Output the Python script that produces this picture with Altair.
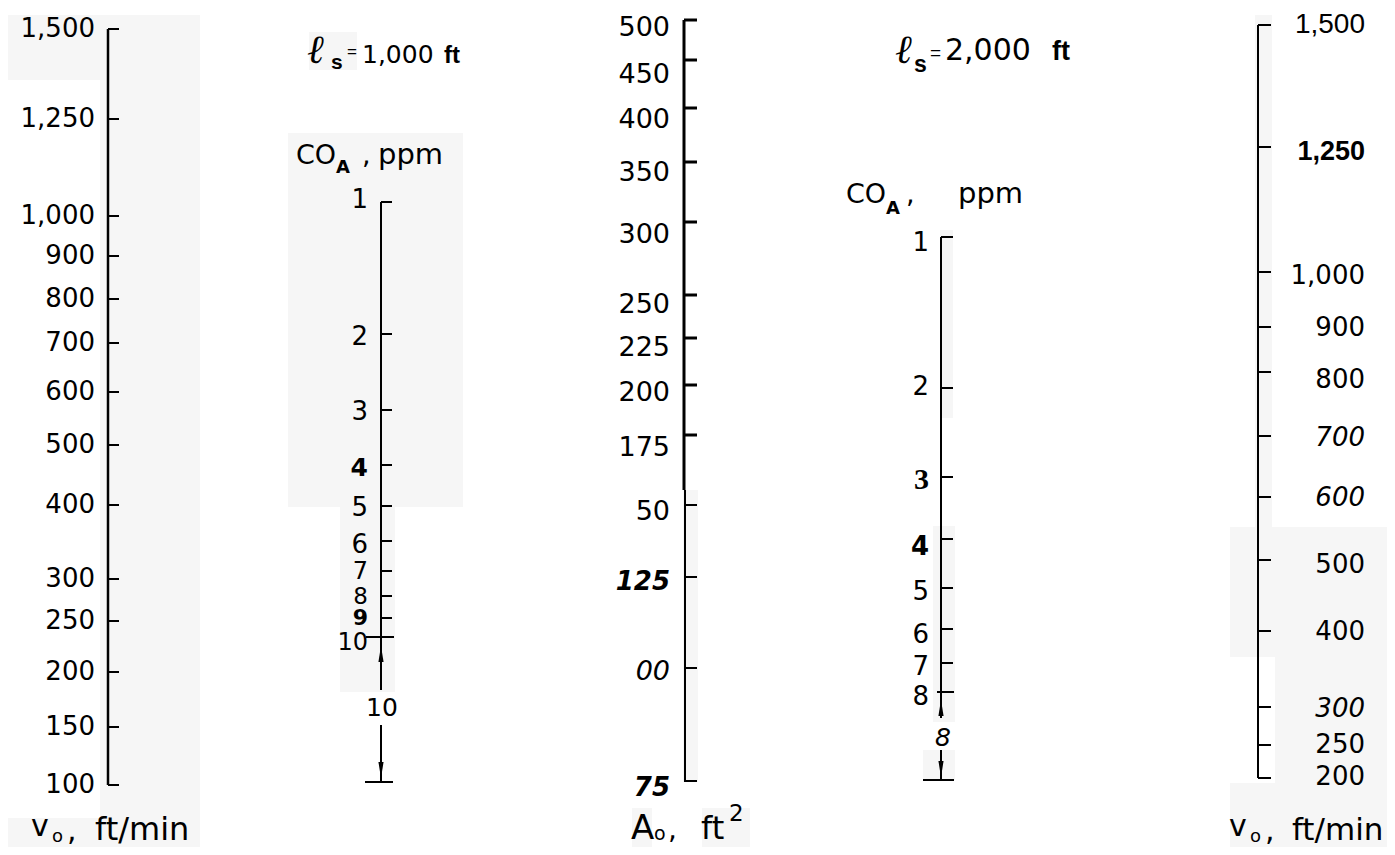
import altair as alt
import pandas as pd

# ---------------- values ----------------
# left scale: v0, ft/min  (graduation labels and where each one sits on the scale)
v0L_labels = ["100", "150", "200", "250", "300", "400", "500", "600", "700", "800", "900", "1,000", "1,250", "1,500"]
v0L_at = [785, 727, 672, 621, 579, 505, 445, 392, 343, 299, 256, 216, 119, 29]

# CO_A scale for l_s = 1,000 ft
co1_labels = ["1", "2", "3", "4", "5", "6", "7", "8", "9", "10"]
co1_at = [202, 334, 410, 465, 506, 541, 571, 596, 618, 637]
co1_label_at = [200, 337, 412, 468, 508, 545, 572, 597, 618, 643]

# A0 scale, ft^2
a0_labels = ["500", "450", "400", "350", "300", "250", "225", "200", "175", "50", "125", "00", "75"]
a0_at = [20, 60, 108, 162, 222, 295, 338, 385, 435, 505, 577, 668, 781]
a0_label_at = [28, 75, 120, 173, 235, 305, 348, 393, 448, 512, 582, 672, 788]

# CO_A scale for l_s = 2,000 ft
co2_labels = ["1", "2", "3", "4", "5", "6", "7", "8"]
co2_at = [237, 388, 477, 539, 588, 629, 663, 692]
co2_label_at = [243, 387, 480, 547, 592, 635, 667, 697]

# right scale: v0, ft/min
v0R_labels = ["1,500", "1,250", "1,000", "900", "800", "700", "600", "500", "400", "300", "250", "200"]
v0R_at = [25, 147, 272, 327, 372, 436, 497, 560, 631, 707, 745, 778]
v0R_label_at = [25, 152, 276, 328, 380, 438, 498, 565, 632, 709, 745, 777]

range1_label = "10"
range2_label = "8"

# ---------------- layout ----------------
W, H = 1379, 839
xs = alt.Scale(domain=[8, 8 + W], nice=False, zero=False)
ys = alt.Scale(domain=[8, 8 + H], nice=False, zero=False, reverse=True)
SANS = "DejaVu Sans"
HELV = "Liberation Sans"
SERIF = "Liberation Serif"
BG = "#f6f6f6"

bg = pd.DataFrame([
    (7, 200, 15, 80), (100, 200, 80, 818), (7, 200, 818, 855),
    (288, 463, 133, 507), (340, 395, 497, 692), (309, 357, 32, 70),
    (683, 698, 490, 782), (632, 652, 808, 855), (702, 750, 808, 855),
    (940, 953, 230, 418), (933, 955, 526, 722), (923, 955, 750, 780),
    (1255, 1272, 15, 527), (1230, 1395, 527, 657), (1275, 1395, 657, 783), (1230, 1395, 783, 855),
], columns=["x", "x2", "y", "y2"])

axes = pd.DataFrame([
    dict(x=108, y=v0L_at[-1], y2=v0L_at[0], w=2.5),
    dict(x=381, y=co1_at[0], y2=690, w=2),
    dict(x=381, y=725, y2=782, w=2),
    dict(x=684, y=a0_at[0], y2=490, w=3),
    dict(x=685, y=490, y2=a0_at[-1], w=2),
    dict(x=941, y=co2_at[0], y2=718, w=2),
    dict(x=941, y=750, y2=780, w=2),
    dict(x=1258, y=v0R_at[0], y2=v0R_at[-1], w=2),
])

ticks, labels = [], []


def add_scale(labs, at, label_at, ax, x1, x2, lx, align, size, width, special=None, cross=None):
    special = special or {}
    cross = cross or {}
    for lab, a, la in zip(labs, at, label_at):
        tx1, tx2 = cross.get(lab, (x1, x2))
        w = width(a) if callable(width) else width
        ticks.append(dict(x=tx1, x2=tx2, y=a, w=w))
        font, weight, style, sz = special.get(lab, (SANS, "normal", "normal", size))
        labels.append(dict(x=lx, y=la, text=lab, align=align, baseline="middle",
                           font=font, weight=weight, style=style, size=sz))


add_scale(v0L_labels, v0L_at, v0L_at, 108, 108, 119, 95, "right", 26, 2)
add_scale(co1_labels, co1_at, co1_label_at, 381, 381, 392, 368, "right", 26, 2,
          special={"4": (SANS, "bold", "normal", 25), "7": (SANS, "normal", "normal", 24),
                   "8": (SANS, "normal", "normal", 23), "9": (SANS, "bold", "normal", 22),
                   "10": (SANS, "normal", "normal", 24)},
          cross={"10": (366, 394)})
add_scale(a0_labels, a0_at, a0_label_at, 684, 684, 697, 670, "right", 27,
          lambda a: 3 if a < 490 else 2,
          special={"125": (SANS, "bold", "italic", 26), "00": (SANS, "normal", "italic", 27),
                   "75": (SANS, "bold", "italic", 26)})
add_scale(co2_labels, co2_at, co2_label_at, 941, 941, 953, 929, "right", 26, 2,
          special={"3": (SERIF, "bold", "normal", 30), "4": (SANS, "bold", "normal", 26)},
          cross={"8": (937, 954)})
add_scale(v0R_labels, v0R_at, v0R_label_at, 1258, 1258, 1271, 1365, "right", 26, 2,
          special={"1,500": (HELV, "normal", "normal", 28), "1,250": (HELV, "bold", "normal", 27),
                   "700": (SANS, "normal", "italic", 26), "600": (SANS, "normal", "italic", 26),
                   "300": (SANS, "normal", "italic", 26)})

# range bars at the foot of the two CO_A scales
ticks.append(dict(x=365, x2=393, y=782, w=2))
ticks.append(dict(x=923, x2=954, y=780, w=2))
ticks = pd.DataFrame(ticks)

# range labels under the arrows
labels.append(dict(x=382, y=708, text=range1_label, align="center", baseline="middle",
                   font=SANS, weight="normal", style="normal", size=25))
labels.append(dict(x=943, y=738, text=range2_label, align="center", baseline="middle",
                   font=SANS, weight="normal", style="italic", size=25))


def T(x, y, text, size, font=SANS, weight="normal", style="normal", align="left", baseline="alphabetic"):
    labels.append(dict(x=x, y=y, text=text, align=align, baseline=baseline,
                       font=font, weight=weight, style=style, size=size))


# scale titles
T(31, 836, "v", 30)
T(52, 842, "o", 18)
T(67, 840, ",", 30)
T(95, 840, "ft/min", 32)

T(1229, 836, "v", 30)
T(1250, 842, "o", 18)
T(1265, 840, ",", 30)
T(1292, 840, "ft/min", 31)

T(631, 839, "A", 34)
T(654, 840, "o", 19)
T(668, 839, ",", 28)
T(701, 839, "ft", 32)
T(729, 821, "2", 23)

T(296, 164, "CO", 27)
T(336, 173, "A", 18, weight="bold")
T(362, 164, ",", 27)
T(378, 164, "ppm", 29)

T(846, 203, "CO", 27)
T(886, 214, "A", 18, weight="bold")
T(906, 203, ",", 27)
T(958, 203, "ppm", 29)

T(307, 63, "ℓ", 40, font="DejaVu Serif", style="italic")
T(331, 69, "s", 21, font=HELV, weight="bold")
T(347, 57, "=", 17, font=HELV)
T(362, 63, "1,000", 25)
T(444, 63, "ft", 24, font=HELV, weight="bold")

T(895, 63, "ℓ", 40, font="DejaVu Serif", style="italic")
T(914, 72, "s", 23, font=HELV, weight="bold")
T(930, 59, "=", 19, font=HELV)
T(945, 60, "2,000", 30)
T(1052, 60, "ft", 27, font=HELV, weight="bold")

labels = pd.DataFrame(labels)

arrows = pd.DataFrame([
    dict(x=381, y=654, dir="up"), dict(x=381, y=770, dir="down"),
    dict(x=941, y=708, dir="up"), dict(x=941, y=769, dir="down"),
])

X = lambda f: alt.X(f, type="quantitative", scale=xs, axis=None)
Y = lambda f: alt.Y(f, type="quantitative", scale=ys, axis=None)

layers = []
layers.append(alt.Chart(bg).mark_rect(color=BG).encode(x=X("x"), x2="x2", y=Y("y"), y2="y2"))
layers.append(alt.Chart(axes).mark_rule(color="black").encode(
    x=X("x"), y=Y("y"), y2="y2", strokeWidth=alt.StrokeWidth("w:Q", scale=None)))
layers.append(alt.Chart(ticks).mark_rule(color="black").encode(
    x=X("x"), x2="x2", y=Y("y"), strokeWidth=alt.StrokeWidth("w:Q", scale=None)))

shapes = {"up": "M0,-1L0.32,1L-0.32,1Z", "down": "M0,1L0.32,-1L-0.32,-1Z"}
for d, path in shapes.items():
    sub = arrows[arrows["dir"] == d]
    layers.append(alt.Chart(sub).mark_point(shape=path, filled=True, color="black", opacity=1, size=260)
                  .encode(x=X("x"), y=Y("y")))

for (font, weight, style, align, baseline), sub in labels.groupby(["font", "weight", "style", "align", "baseline"]):
    layers.append(alt.Chart(sub).mark_text(font=font, fontWeight=weight, fontStyle=style, align=align,
                                           baseline=baseline, color="black")
                  .encode(x=X("x"), y=Y("y"), text="text:N", size=alt.Size("size:Q", scale=None)))

chart = alt.layer(*layers).properties(
    width=W, height=H, autosize=alt.AutoSizeParams(type="none"), padding=0, background="white"
).configure_view(stroke=None)

chart.save("out.html", embed_options={"renderer": "svg", "actions": False})
